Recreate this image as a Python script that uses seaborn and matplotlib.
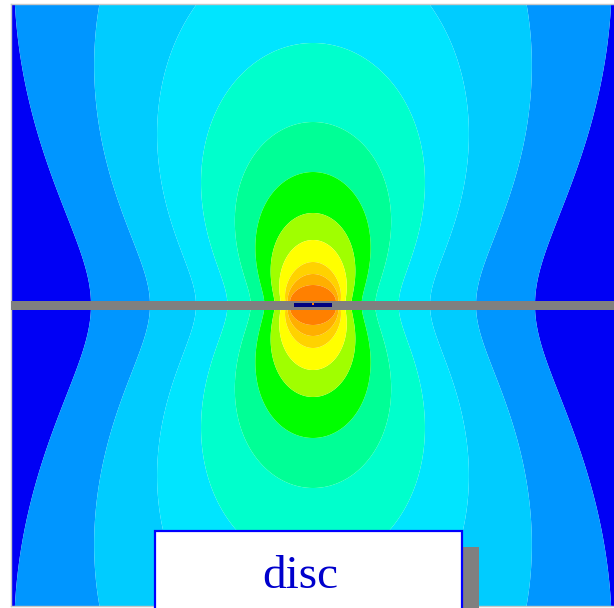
import numpy as np
import matplotlib
matplotlib.use("Agg")
import matplotlib.pyplot as plt
from matplotlib.patches import Rectangle
import seaborn as sns

sns.set_theme(style="white")

# Band colours, weakest field (outside) to strongest (centre)
band_colors = ["#0000F5", "#0096FF", "#00CCFF", "#00E5FF", "#00FFCC", "#00FF96",
               "#00FF00", "#A0FF00", "#FFFF00", "#FFD200", "#FFAF00", "#FF8000"]

# Outermost band edges where they cross the disc plane (mm from the axis)
plane_edges = [22.2, 16.3, 11.7]
# Remaining band edges where they cross the axis (mm above the disc)
axis_edges = [26.2, 18.3, 13.3, 9.2, 6.5, 4.3, 3.1, 2.0]

# Geometry (mm)
coil_half = 1.9          # half-length of the coil section
disc_top, disc_bottom = 0.4, -0.5
x_half, y_half = 30.2, 30.1

# Lobe shape of each source element
lobe_gain = 0.6
lobe_far, lobe_near, lobe_scale = 2.45, 1.45, 5.0


def field(x, y):
    """Field strength of the coil, summed over elements along its length."""
    x = np.asarray(x, dtype=float)
    y = np.asarray(y, dtype=float)
    xs = np.linspace(-coil_half, coil_half, 41)
    total = np.zeros(np.broadcast(x, y).shape)
    for xi in xs:
        dx = x - xi
        r = np.maximum(np.hypot(dx, y), 0.05)
        cos2 = (y / r) ** 2
        m = lobe_far - lobe_near * np.exp(-r / lobe_scale)
        q = (1.0 + lobe_gain * cos2) ** m
        total = total + (q / r) ** 2
    return total / len(xs)


gx = np.linspace(-x_half, x_half, 605)
gy = np.linspace(-y_half, y_half, 603)
X, Y = np.meshgrid(gx, gy)
F = field(X, Y)

edges = [float(field(b, 0.0)) for b in plane_edges] + \
        [float(field(0.0, a)) for a in axis_edges]
levels = [0.0] + edges + [float(F.max()) * 10 + 1.0]

W, H = 614, 608
fig = plt.figure(figsize=(W / 100, H / 100), dpi=100)
fig.patch.set_facecolor("white")
ax = fig.add_axes([11 / W, 2 / H, 604 / W, 602 / H])

palette = sns.color_palette(band_colors)
ax.contourf(X, Y, F, levels=levels, colors=palette, antialiased=True)

# Disc seen edge-on, and the coil lying on it
ax.axhspan(disc_bottom, disc_top, color="#808080", lw=0, zorder=3)
ax.add_patch(Rectangle((-coil_half, -0.2), 2 * coil_half, 0.4,
                       facecolor="#000080", edgecolor="none", zorder=4))
ax.add_patch(Rectangle((-0.08, 0.05), 0.16, 0.15,
                       facecolor="#FF8000", edgecolor="none", zorder=5))

ax.set_xlim(-x_half, x_half)
ax.set_ylim(-y_half, y_half)
ax.set_xticks([])
ax.set_yticks([])
for s in ax.spines.values():
    s.set_color("#C8C8C8")
    s.set_linewidth(1.0)


def fx(px):
    return px / W


def fy(py):
    return 1 - py / H


# Label box with drop shadow
fig.add_artist(Rectangle((fx(462), fy(615)), 17 / W, (615 - 547) / H,
                         transform=fig.transFigure, facecolor="#808080",
                         edgecolor="none", zorder=5))
fig.add_artist(Rectangle((fx(155), fy(615)), (462 - 155) / W, (615 - 531) / H,
                         transform=fig.transFigure, facecolor="white",
                         edgecolor="#0000FF", linewidth=1.6, zorder=6))
fig.text(fx(300), fy(588), "disc", ha="center", va="baseline", fontsize=34,
         family=["Liberation Serif", "DejaVu Serif"], color="#0000CC", zorder=7)

fig.savefig("out.png", dpi=100, facecolor="white")
